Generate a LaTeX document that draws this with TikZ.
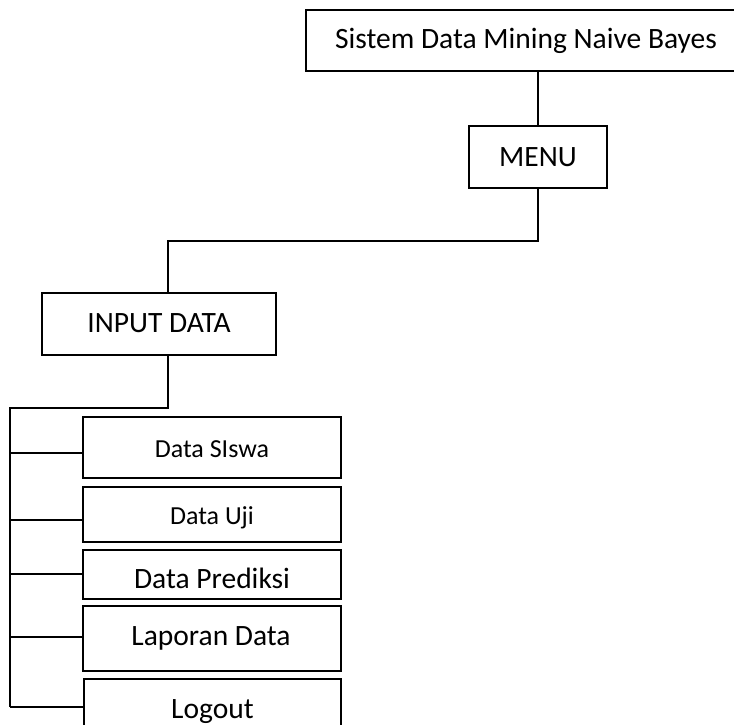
\documentclass[tikz,border=0pt]{standalone}
\usepackage{fontspec}
\setmainfont{Carlito}
\begin{document}
\begin{tikzpicture}[x=1pt,y=-1pt,
  box/.style={draw,line width=1.8pt,rectangle,inner sep=0pt,minimum width=#1},
  wire/.style={line width=1.8pt},
  big/.style={anchor=base,inner sep=0pt,font=\fontsize{29.5}{34}\selectfont},
  small/.style={anchor=base,inner sep=0pt,font=\fontsize{26}{31}\selectfont}]
\useasboundingbox (0,0) rectangle (734,724);
\clip (0,0) rectangle (734,724);

% boxes
\node[box=434pt,minimum height=61pt] (sys) at (523,40.5) {};
\node[box=138pt,minimum height=62pt] (menu) at (538,157) {};
\node[box=234pt,minimum height=62pt] (input) at (159,324) {};
\node[box=258pt,minimum height=61pt] (siswa) at (212,447.5) {};
\node[box=258pt,minimum height=55pt] (uji) at (212,514.5) {};
\node[box=258pt,minimum height=49pt] (prediksi) at (212,574.5) {};
\node[box=258pt,minimum height=65pt] (laporan) at (212,638.5) {};
\node[box=257pt,minimum height=61pt] (logout) at (212.5,709.5) {};

% labels
\node[big] (tsys) at (526,48) {Sistem Data Mining Naive Bayes};
\node[big] (tmenu) at (538,166) {MENU};
\node[big] (tinput) at (159,332) {INPUT DATA};
\node[small] (tsiswa) at (212,457) {Data SIswa};
\node[small] (tuji) at (212,524) {Data Uji};
\node[big] (tpred) at (212,588) {Data Prediksi};
\node[big] (tlap) at (211,645) {Laporan Data};
\node[big] (tlog) at (212.5,718) {Logout};

% junction points
\coordinate (j1) at (168,241);
\coordinate (j2) at (168,408);
\coordinate (j3) at (10,707);

% connectors
\draw[wire] (menu.north) -- (menu.north |- sys.south);
\draw[wire] (menu.south) |- (j1) -- (j1 |- input.north);
\draw[wire] (j2 |- input.south) -- (j2) -| (j3);
\draw[wire] ([yshift=-5.5pt]siswa.west) -- ([yshift=-5.5pt]siswa.west -| j3);
\draw[wire] ([yshift=-5.5pt]uji.west) -- ([yshift=-5.5pt]uji.west -| j3);
\draw[wire] ([yshift=0.5pt]prediksi.west) -- ([yshift=0.5pt]prediksi.west -| j3);
\draw[wire] ([yshift=1.5pt]laporan.west) -- ([yshift=1.5pt]laporan.west -| j3);
\draw[wire] ([yshift=2.5pt]logout.west) -- (j3);
\end{tikzpicture}
\end{document}
